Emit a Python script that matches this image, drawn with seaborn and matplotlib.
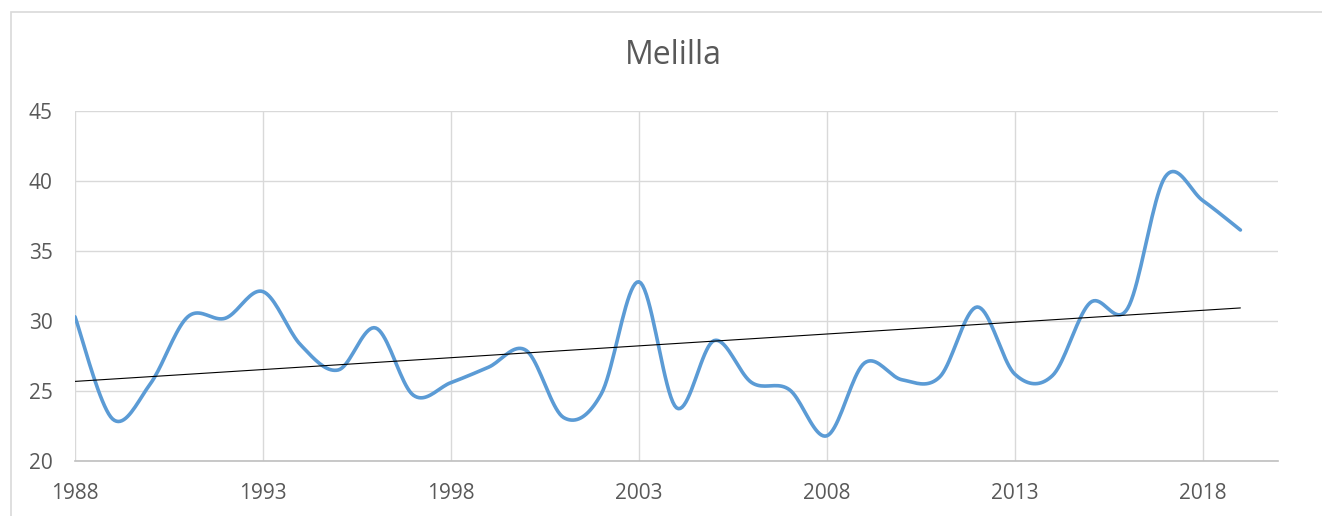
import numpy as np
import pandas as pd
import matplotlib.pyplot as plt
import seaborn as sns

years = list(range(1988, 2020))
values = [30.3, 23.0, 25.5, 30.3, 30.2, 32.1, 28.3, 26.5, 29.5, 24.7,
          25.6, 26.7, 27.9, 23.1, 24.8, 32.8, 23.8, 28.6, 25.6, 25.1,
          21.8, 27.0, 25.8, 26.0, 31.0, 26.2, 26.1, 31.3, 30.9, 40.3,
          38.6, 36.5]
title = "Melilla"
x_ticks = [1988, 1993, 1998, 2003, 2008, 2013, 2018]
y_ticks = [20, 25, 30, 35, 40, 45]

LINE_COLOR = "#5B9BD5"
GRID_COLOR = "#D9D9D9"
TEXT_COLOR = "#595959"


def smooth_curve(x, y, n=20):
    """Catmull-Rom curve through the points (like Excel's smoothed line)."""
    x = np.asarray(x, dtype=float)
    y = np.asarray(y, dtype=float)
    px = np.concatenate([[x[0]], x, [x[-1]]])
    py = np.concatenate([[y[0]], y, [y[-1]]])
    xs, ys = [], []
    t = np.linspace(0, 1, n, endpoint=False)
    for i in range(1, len(px) - 2):
        for p, out in ((px, xs), (py, ys)):
            p0, p1, p2, p3 = p[i - 1], p[i], p[i + 1], p[i + 2]
            out.extend(0.5 * (2 * p1 + (-p0 + p2) * t
                              + (2 * p0 - 5 * p1 + 4 * p2 - p3) * t ** 2
                              + (-p0 + 3 * p1 - 3 * p2 + p3) * t ** 3))
    xs.append(x[-1])
    ys.append(y[-1])
    return np.array(xs), np.array(ys)


sns.set_style("white")
plt.rcParams["font.family"] = ["Open Sans", "DejaVu Sans"]

fig = plt.figure(figsize=(13.22, 5.16), dpi=100)
ax = fig.add_axes([75 / 1322, 55 / 516, 1203 / 1322, 350 / 516])

# chart border (cropped on the right and bottom)
fig.patches.append(plt.Rectangle((11 / 1322, -0.1), 1.2, 0.1 + 504 / 516,
                                 transform=fig.transFigure, fill=False,
                                 edgecolor=GRID_COLOR, linewidth=1.2))

sx, sy = smooth_curve(years, values)
df = pd.DataFrame({"year": sx, "value": sy})
sns.lineplot(data=df, x="year", y="value", sort=False, estimator=None,
             color=LINE_COLOR, linewidth=2.6, ax=ax, zorder=3)

# linear trend line
slope, intercept = np.polyfit(years, values, 1)
trend = pd.DataFrame({"year": [years[0], years[-1]],
                      "value": [slope * years[0] + intercept,
                                slope * years[-1] + intercept]})
sns.lineplot(data=trend, x="year", y="value", color="black",
             linewidth=0.8, ax=ax, zorder=4)

ax.set_xlim(1988, 2020)
ax.set_ylim(20, 45)
ax.set_xticks(x_ticks)
ax.set_yticks(y_ticks)
ax.grid(True, color=GRID_COLOR, linewidth=1.0)
ax.set_axisbelow(True)
for side in ["top", "right", "left"]:
    ax.spines[side].set_visible(False)
ax.spines["bottom"].set_color("#BFBFBF")
ax.spines["bottom"].set_linewidth(1.2)
ax.tick_params(axis="both", length=0, labelsize=15, labelcolor=TEXT_COLOR)
ax.tick_params(axis="x", pad=16)
ax.tick_params(axis="y", pad=16)
ax.set_xlabel("")
ax.set_ylabel("")

fig.text(0.509, 1 - 56 / 516, title, ha="center", va="center",
         fontsize=23, color=TEXT_COLOR)

fig.savefig("out.png", dpi=100)
plt.close(fig)
